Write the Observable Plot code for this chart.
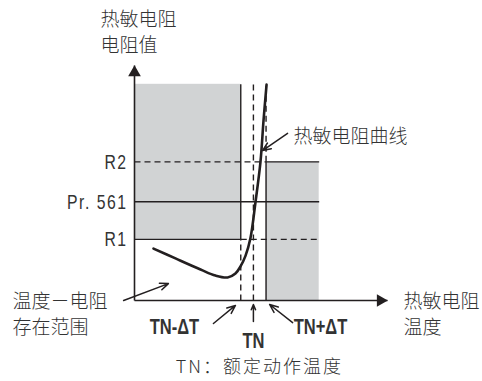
<!DOCTYPE html>
<html><head><meta charset="utf-8">
<script src="https://cdn.jsdelivr.net/npm/d3@7"></script>
<script src="https://cdn.jsdelivr.net/npm/@observablehq/plot@0.6"></script>
<style>body{margin:0;background:#fff}</style>
</head><body><div id="chart"></div>
<script>
// Temperature markers (abstract units, x axis 0..100)
const tempLabels = ["TN-ΔT", "TN", "TN+ΔT"];
const tempValues = [42, 47, 52];
// Resistance markers (abstract units, y axis 0..100)
const resLabels = ["R1", "Pr. 561", "R2"];
const resValues = [26, 42, 59];
const rangeTop = 92;      // top of the shaded region
const rangeRight = 73;    // right end of right shaded region
const axisMax = 100;

// Thermistor curve
const curveTemp = [7.5, 16.2, 26.1, 32.0, 36.8, 39.9, 41.9, 43.9, 45.8, 47.8, 49.8, 51.0, 52.2];
const curveRes  = [22.1, 17.9, 13.2, 10.6, 9.8, 11.5, 14.5, 19.1, 26.4, 41.7, 59.1, 76.6, 91.9];

// Annotation texts and where they sit
const noteTexts = ["热敏电阻\n电阻值", "热敏电阻曲线", "温度－电阻\n存在范围", "热敏电阻\n温度"];
const noteX = [-13.4, 62.8, -48.2, 106.3];
const noteY = [114.7, 70.6, -5.3, -5.3];
const tempLabelX = [15.8, 47, 73.5];
const tempLabelY = [-11.3, -17, -11.3];
const captionText = "TN：额定动作温度";
const captionX = 49.4, captionY = -28.5;
// Annotation arrows [x1,y1,x2,y2]
const pointerArrows = [
  [60.5, 71.1, 50.6, 63.8],
  [-4.3, 0, 13.4, 7.2],
  [31.2, -9.8, 39.9, -2.1],
  [47, -8.9, 47, -1.7],
  [62.5, -9.4, 53.4, -1.7]
];

const ink = "#231f20", gray = "#d1d3d4", textCol = "#333";
const cjk = "'Noto Sans CJK SC','Noto Sans',sans-serif";
const latin = "'Liberation Sans',Arial,sans-serif";

const [t1, tn, t2] = tempValues;
const [r1, rp, r2] = resValues;
const shaded = [
  {x1: 0, x2: t1, y1: r1, y2: rangeTop},
  {x1: t2, x2: rangeRight, y1: 0, y2: r2}
];
const solid = [
  {x1: t1, y1: r1, x2: t1, y2: rangeTop},
  {x1: t2, y1: 0, x2: t2, y2: r2},
  {x1: 0, y1: rp, x2: rangeRight, y2: rp},
  {x1: 0, y1: r1, x2: t1, y2: r1},
  {x1: t2, y1: r2, x2: rangeRight, y2: r2}
];
const dashed = [
  {x1: t1, y1: 0, x2: t1, y2: r1},
  {x1: tn, y1: 0, x2: tn, y2: rangeTop},
  {x1: t2, y1: r2, x2: t2, y2: rangeTop},
  {x1: 0, y1: r2, x2: t2, y2: r2},
  {x1: t1, y1: r1, x2: rangeRight, y2: r1}
];
const curve = curveTemp.map((t, i) => ({t, r: curveRes[i]}));
const notes = noteTexts.map((s, i) => ({s, x: noteX[i], y: noteY[i]}));
const tempTicks = tempLabels.map((s, i) => ({s, x: tempLabelX[i], y: tempLabelY[i]}));
const resTicks = resLabels.map((s, i) => ({s, y: resValues[i]}));
const arrows = pointerArrows.map(([x1, y1, x2, y2]) => ({x1, y1, x2, y2}));

const chart = Plot.plot({
  width: 482, height: 381,
  marginLeft: 134, marginRight: 95, marginTop: 65, marginBottom: 81,
  x: {domain: [0, axisMax], axis: null},
  y: {domain: [0, axisMax], axis: null},
  style: {background: "#fff", overflow: "visible"},
  marks: [
    Plot.rect(shaded, {x1: "x1", x2: "x2", y1: "y1", y2: "y2", fill: gray}),
    Plot.link(solid, {x1: "x1", y1: "y1", x2: "x2", y2: "y2", stroke: ink, strokeWidth: 1.4}),
    Plot.link(dashed, {x1: "x1", y1: "y1", x2: "x2", y2: "y2", stroke: ink, strokeWidth: 1.4, strokeDasharray: "6,4"}),
    Plot.link([{x1: 0, y1: 0, x2: 0, y2: axisMax}, {x1: 0, y1: 0, x2: axisMax, y2: 0}],
      {x1: "x1", y1: "y1", x2: "x2", y2: "y2", stroke: ink, strokeWidth: 1.6}),
    Plot.dot([{x: 0, y: axisMax}], {x: "x", y: "y", symbol: "triangle", r: 4.7, fill: ink, stroke: null, dy: 7}),
    Plot.dot([{x: axisMax, y: 0}], {x: "x", y: "y", symbol: "triangle", r: 4.7, fill: ink, stroke: null, rotate: 90, dx: -7}),
    Plot.line(curve, {x: "t", y: "r", curve: "catmull-rom", stroke: ink, strokeWidth: 2.6}),
    Plot.arrow(arrows, {x1: "x1", y1: "y1", x2: "x2", y2: "y2", stroke: ink, strokeWidth: 1.5, headLength: 9, headAngle: 45}),
    Plot.text(resTicks, {x: 0, y: "y", text: "s", dx: -7, textAnchor: "end", fontFamily: latin, fontSize: 21, fill: textCol}),
    Plot.text(tempTicks, {x: "x", y: "y", text: "s", fontFamily: latin, fontSize: 22, fontWeight: "bold", fill: textCol}),
    Plot.text(notes, {x: "x", y: "y", text: "s", textAnchor: "start", lineHeight: 1.32, fontFamily: cjk, fontSize: 19, fontWeight: 300, fill: textCol}),
    Plot.text([captionText], {x: captionX, y: captionY, text: d => d, fontFamily: cjk, fontSize: 18, fontWeight: 300, fill: textCol})
  ]
});
// condense the latin labels horizontally (the reference uses a narrow face)
chart.querySelectorAll('g[font-family^="\'Liberation"] text').forEach(t => {
  let tr = t.getAttribute("transform");
  if (!tr) {
    tr = `translate(${t.getAttribute("x") || 0},${t.getAttribute("y") || 0})`;
    t.removeAttribute("x"); t.removeAttribute("y");
  }
  t.setAttribute("transform", tr + " scale(0.75,1)");
});
chart.querySelectorAll('g[font-size="21"] text').forEach(t => t.setAttribute("letter-spacing", "2"));
chart.querySelectorAll('g[font-size="18"] text').forEach(t => t.setAttribute("letter-spacing", "2"));
document.getElementById("chart").append(chart);
</script>
</body></html>
